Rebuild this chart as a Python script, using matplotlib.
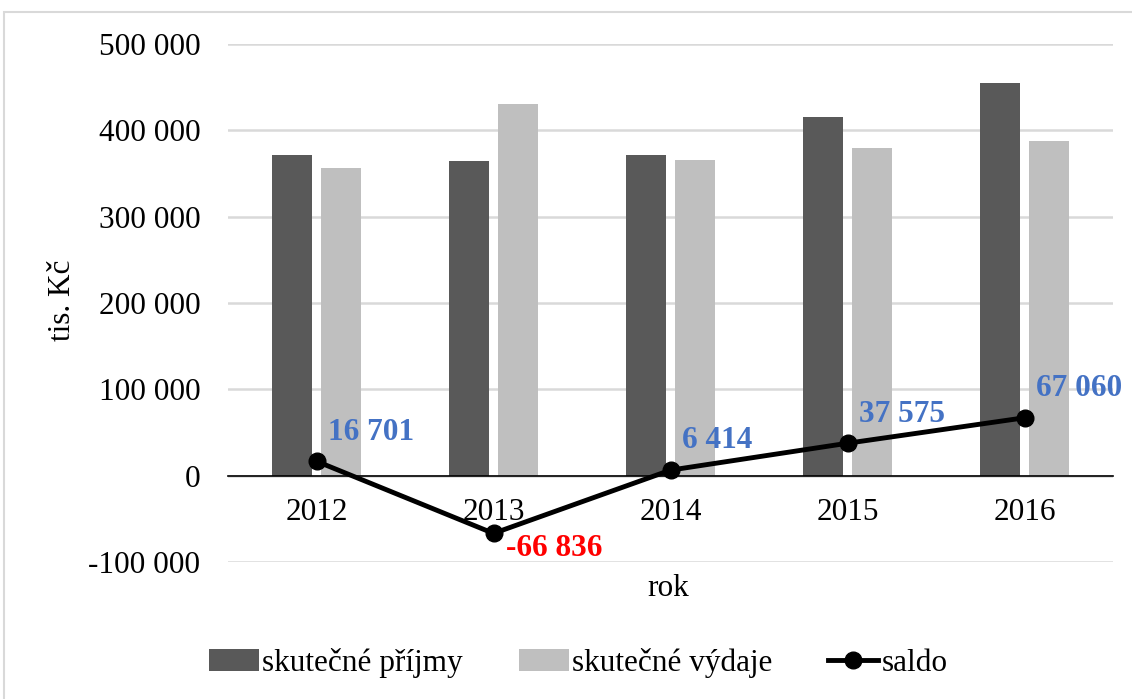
import numpy as np
import matplotlib
matplotlib.use("Agg")
import matplotlib.pyplot as plt
from matplotlib.ticker import FuncFormatter, MultipleLocator
from matplotlib.patches import Rectangle

plt.rcParams['font.family'] = ['Liberation Serif', 'DejaVu Serif']

years = ['2012', '2013', '2014', '2015', '2016']
prijmy = [372000, 364000, 372000, 416000, 455000]
vydaje = [356000, 431000, 366000, 379000, 388000]
saldo = [16701, -66836, 6414, 37575, 67060]

DARK = '#595959'
LIGHT = '#bfbfbf'
BLUE = '#4472c4'
FS = 22.5

fig = plt.figure(figsize=(11.32, 6.99), dpi=100)
ax = fig.add_axes([228/1132, 1-562/699, 885/1132, 518/699])

x = np.arange(len(years))
w = 0.226
b1 = ax.bar(x - 0.141, prijmy, w, color=DARK, label='skutečné příjmy', zorder=2)
b2 = ax.bar(x + 0.141, vydaje, w, color=LIGHT, label='skutečné výdaje', zorder=2)
l1, = ax.plot(x, saldo, color='black', lw=3.5, marker='o', ms=12, label='saldo', zorder=4)

def fmt(v):
    s = f"{abs(int(v)):,}".replace(",", " ")
    return ("-" if v < 0 else "") + s

for xi, v in zip(x, saldo):
    if v < 0:
        ax.annotate(fmt(v), (xi, v), xytext=(9, -11), textcoords='offset points',
                    ha='left', va='center', color='red', fontsize=FS, fontweight='bold', zorder=5)
    else:
        ax.annotate(fmt(v), (xi, v), xytext=(8, 21), textcoords='offset points',
                    ha='left', va='center', color=BLUE, fontsize=FS, fontweight='bold', zorder=5)

ax.set_xlim(-0.5, 4.5)
ax.set_ylim(-100000, 500000)
ax.yaxis.set_major_locator(MultipleLocator(100000))
ax.yaxis.set_major_formatter(FuncFormatter(lambda v, p: fmt(v)))
ax.grid(axis='y', color='#d9d9d9', lw=1.8, zorder=0)
ax.set_axisbelow(True)
for s in ['top', 'right', 'left']:
    ax.spines[s].set_visible(False)
ax.spines['bottom'].set_position(('data', 0))
ax.spines['bottom'].set_color('black')
ax.spines['bottom'].set_linewidth(1.2)
ax.spines['bottom'].set_zorder(3)
ax.set_xticks(x)
ax.set_xticklabels(years)
ax.tick_params(axis='x', length=0, pad=16, labelsize=FS)
ax.tick_params(axis='y', length=0, pad=20, labelsize=FS)

fig.text(62/1132, 1-300/699, 'tis. Kč', rotation=90, ha='center', va='center', fontsize=FS)
fig.text(668/1132, 1-588/699, 'rok', ha='center', va='center', fontsize=FS)

fig.legend([b1, b2, l1], ['skutečné příjmy', 'skutečné výdaje', 'saldo'],
           loc='center', bbox_to_anchor=(578/1132, 1-663/699), ncol=3, frameon=False,
           fontsize=FS, handlelength=1.6, handletextpad=0.1, columnspacing=1.8)

fig.patches.append(Rectangle((4/1132, -0.05), 1.1, 1-12/699+0.05, transform=fig.transFigure,
                             fill=False, edgecolor='#d9d9d9', lw=1.5))

fig.savefig('out.png', dpi=100)
